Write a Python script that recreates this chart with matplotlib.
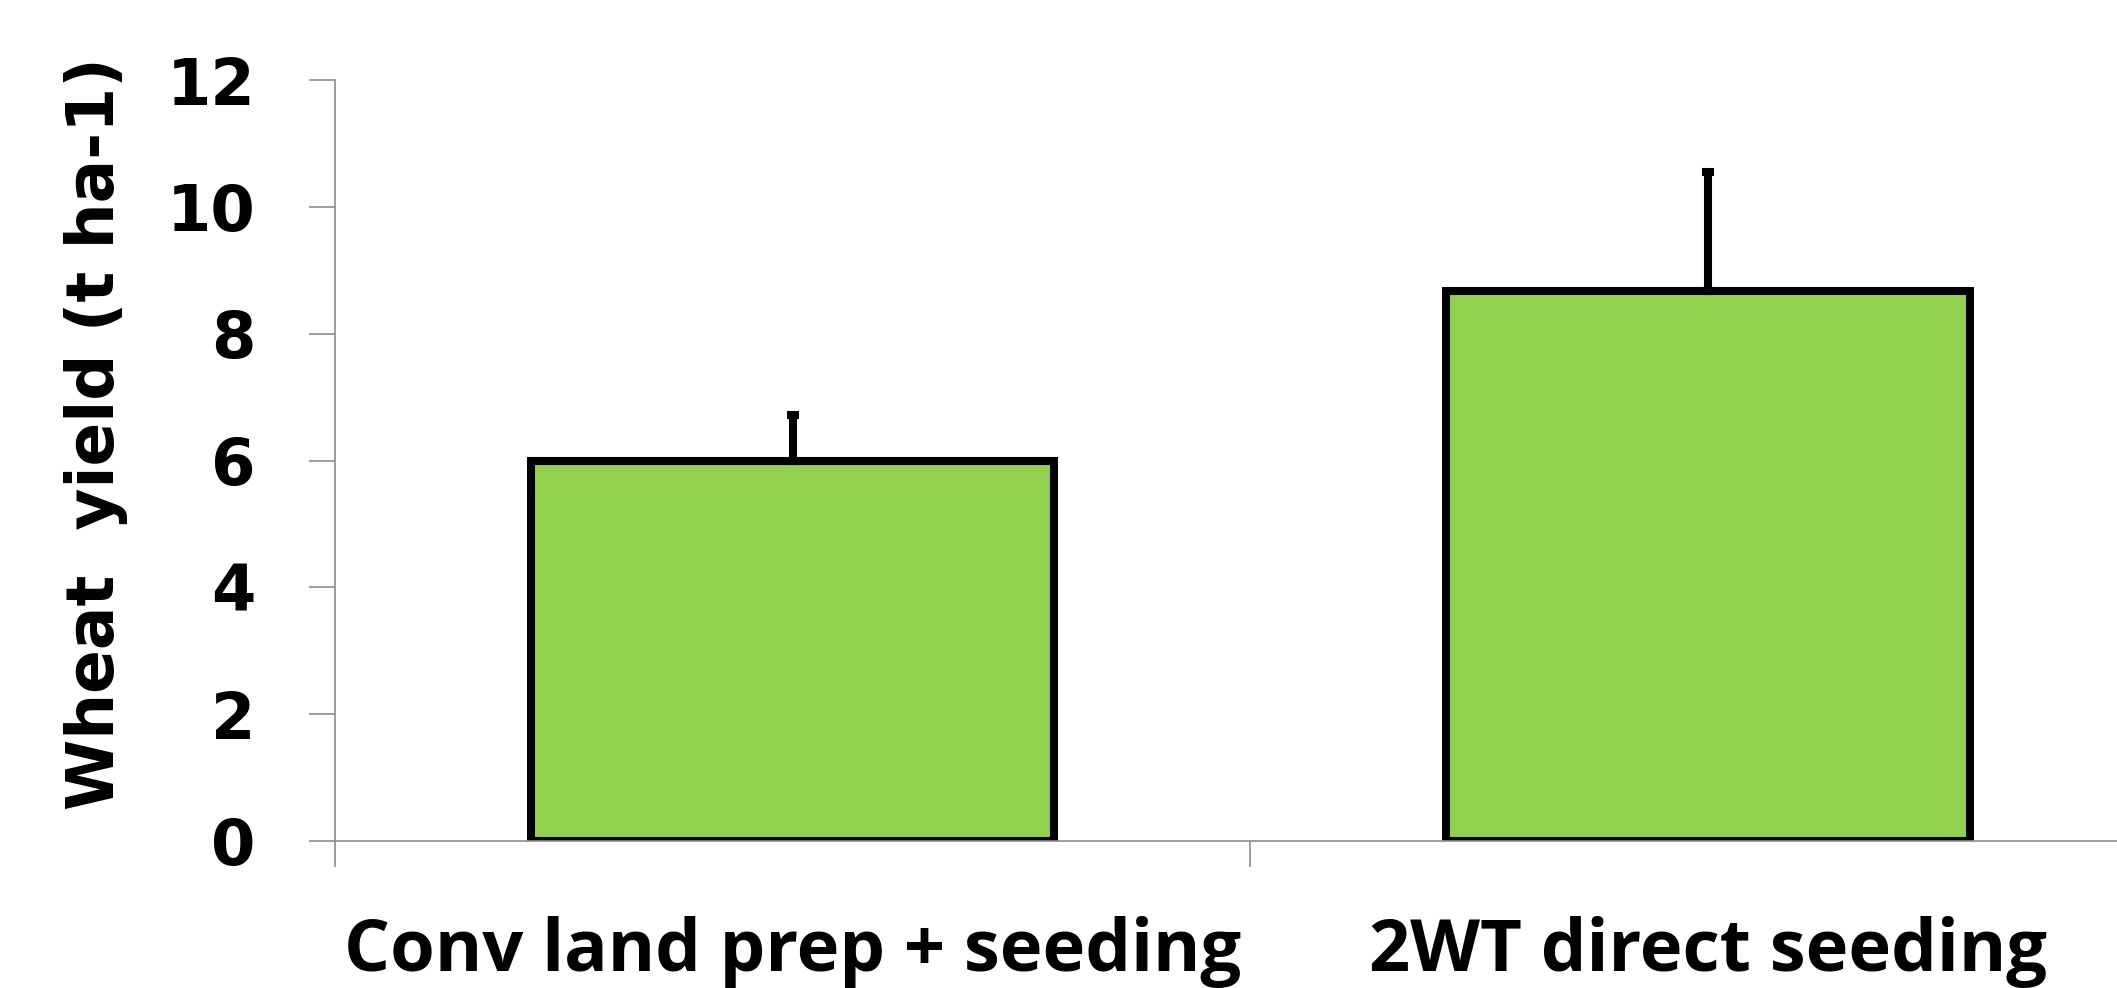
import matplotlib
matplotlib.use("Agg")
import matplotlib.pyplot as plt
from matplotlib.ticker import FixedLocator, NullFormatter

categories = ["Conv land prep + seeding", "2WT direct seeding"]
yields = [6.0, 8.67]
err_upper = [0.72, 1.88]
yticks = [0, 2, 4, 6, 8, 10, 12]

W, H, DPI = 2117, 988, 100
fig = plt.figure(figsize=(W / DPI, H / DPI), dpi=DPI)
ax = fig.add_axes([335 / W, 1 - 841 / H, 1 - 335 / W, (841 - 80) / H])

x = list(range(len(categories)))
ax.bar(x, yields, width=0.572, color="#92D050", edgecolor="black", linewidth=5.8, zorder=2)
ax.errorbar(x, yields, yerr=[[0] * len(yields), err_upper], fmt="none", ecolor="black",
            elinewidth=5.8, capsize=4.5, capthick=5.8, zorder=3)

ax.set_ylim(0, 12)
ax.set_xlim(-0.5, 1.447)
ax.set_yticks(yticks)
ax.set_yticklabels([str(v) for v in yticks], fontsize=46, fontweight="heavy", family="DejaVu Sans")

ax.xaxis.set_major_locator(FixedLocator([-0.5, 0.5, 1.5]))
ax.xaxis.set_major_formatter(NullFormatter())
ax.xaxis.set_minor_locator(FixedLocator(x))
ax.set_xticklabels(categories, minor=True, fontsize=52, fontweight="bold", family="Open Sans")
ax.tick_params(axis="x", which="minor", length=0, pad=54)
ax.tick_params(axis="x", which="major", length=19, width=1.2, color="#8c8c8c", direction="out")
ax.tick_params(axis="y", which="major", length=19, width=1.2, color="#8c8c8c", direction="out", pad=38)

for s in ["top", "right"]:
    ax.spines[s].set_visible(False)
for s in ["left", "bottom"]:
    ax.spines[s].set_color("#8c8c8c")
    ax.spines[s].set_linewidth(1.2)

fig.text(96 / W, 1 - 434 / H, "Wheat  yield (t ha-1)", rotation=90, fontsize=46.5,
         fontweight="bold", family="DejaVu Sans", ha="center", va="center")

fig.savefig("out.png", dpi=DPI)
